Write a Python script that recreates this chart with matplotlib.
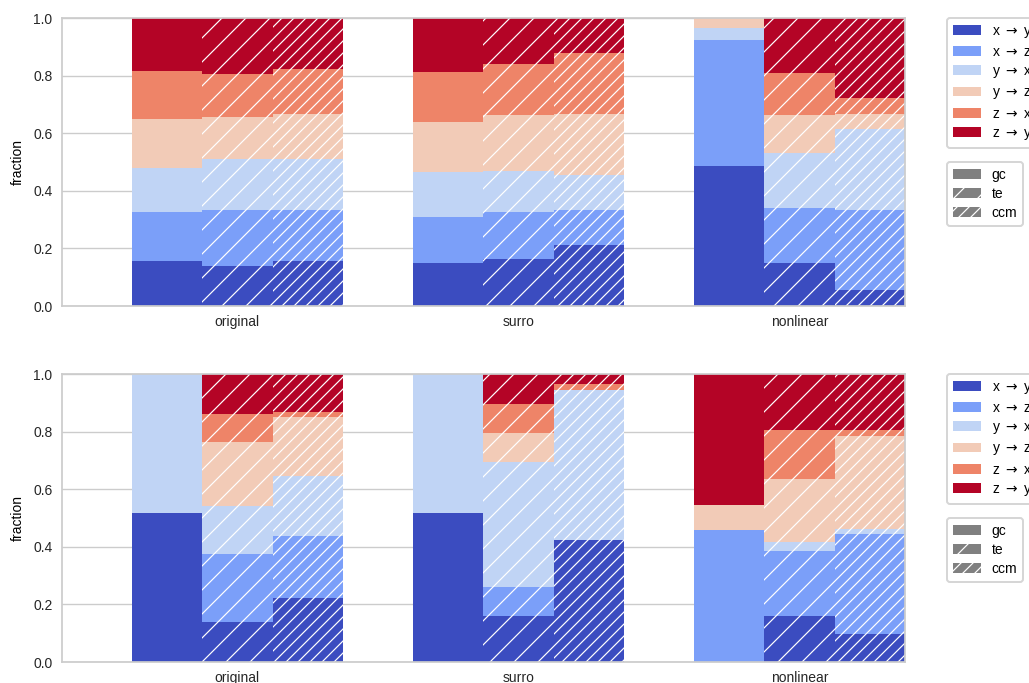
import numpy as np
import matplotlib
matplotlib.use("Agg")
import matplotlib.pyplot as plt
from matplotlib.patches import Patch

# figure is rendered at 144 dpi, so point sizes are scaled down by S
DPI = 144
S = 100 / DPI

groups = ["original", "surro", "nonlinear"]
pairs = ["x $\\rightarrow$ y", "x $\\rightarrow$ z", "y $\\rightarrow$ x",
         "y $\\rightarrow$ z", "z $\\rightarrow$ x", "z $\\rightarrow$ y"]
methods = ["gc", "te", "ccm"]
hatches = ["", "//", "////"]

# fractions per group, columns follow `pairs`
top_gc = np.array([
    [0.157, 0.170, 0.151, 0.170, 0.169, 0.183],
    [0.148, 0.162, 0.154, 0.174, 0.176, 0.186],
    [0.487, 0.438, 0.041, 0.034, 0.000, 0.000],
])
top_te = np.array([
    [0.140, 0.193, 0.177, 0.147, 0.147, 0.196],
    [0.164, 0.162, 0.143, 0.195, 0.177, 0.159],
    [0.150, 0.189, 0.191, 0.132, 0.146, 0.192],
])
top_ccm = np.array([
    [0.157, 0.176, 0.177, 0.157, 0.156, 0.177],
    [0.212, 0.121, 0.122, 0.212, 0.213, 0.120],
    [0.056, 0.277, 0.281, 0.053, 0.055, 0.278],
])

bot_gc = np.array([
    [0.516, 0.000, 0.484, 0.000, 0.000, 0.000],
    [0.516, 0.000, 0.484, 0.000, 0.000, 0.000],
    [0.000, 0.457, 0.000, 0.088, 0.000, 0.455],
])
bot_te = np.array([
    [0.138, 0.237, 0.168, 0.220, 0.098, 0.139],
    [0.160, 0.100, 0.433, 0.102, 0.102, 0.103],
    [0.161, 0.224, 0.033, 0.219, 0.167, 0.196],
])
bot_ccm = np.array([
    [0.222, 0.214, 0.210, 0.204, 0.018, 0.132],
    [0.422, 0.000, 0.522, 0.000, 0.021, 0.035],
    [0.098, 0.346, 0.018, 0.324, 0.018, 0.196],
])

colors = plt.cm.coolwarm(np.linspace(0, 1, len(pairs)))

plt.rcParams["font.family"] = ["Liberation Sans", "DejaVu Sans"]
plt.rcParams["mathtext.fontset"] = "dejavusans"
plt.rcParams["font.size"] = 10 * S
plt.rcParams["hatch.linewidth"] = 0.6
plt.rcParams["axes.edgecolor"] = "0.8"
plt.rcParams["axes.linewidth"] = 1.25 * S
plt.rcParams["grid.color"] = "0.8"
plt.rcParams["grid.linewidth"] = 1.0 * S

fig, axes = plt.subplots(2, 1, figsize=(1029 / DPI, 683 / DPI), dpi=DPI)
fig.subplots_adjust(left=0.060, right=0.8795, top=0.9736, bottom=0.0307, hspace=0.236)

w = 0.25
x = np.arange(len(groups))

for ax, data in zip(axes, [(top_gc, top_te, top_ccm), (bot_gc, bot_te, bot_ccm)]):
    for m, (frac, hatch) in enumerate(zip(data, hatches)):
        bottom = np.zeros(len(groups))
        for p in range(len(pairs)):
            ax.bar(x + (m - 1) * w, frac[:, p], w, bottom=bottom, color=colors[p],
                   edgecolor="white", linewidth=0, hatch=hatch, zorder=2)
            bottom += frac[:, p]
    ax.set_xlim(-0.625, 2.375)
    ax.set_ylim(0, 1)
    ax.set_yticks(np.arange(0, 1.01, 0.2))
    ax.set_xticks(x)
    ax.set_xticklabels(groups)
    ax.set_ylabel("fraction")
    ax.grid(axis="y", zorder=0)
    ax.set_axisbelow(True)
    ax.tick_params(length=0, pad=3.5 * S * 1.9, colors="0.15")

    pair_handles = [Patch(facecolor=c, label=l) for c, l in zip(colors, pairs)]
    leg1 = ax.legend(handles=pair_handles, loc="upper left", bbox_to_anchor=(1.05, 1.0),
                     borderaxespad=0, frameon=True, labelspacing=0.38)
    ax.add_artist(leg1)
    method_handles = [Patch(facecolor="gray", edgecolor="white", linewidth=0, hatch=h, label=mt)
                      for h, mt in zip(hatches, methods)]
    ax.legend(handles=method_handles, loc="upper left", bbox_to_anchor=(1.05, 0.5),
              borderaxespad=0, frameon=True, labelspacing=0.38)

fig.savefig("out.png", dpi=DPI)
